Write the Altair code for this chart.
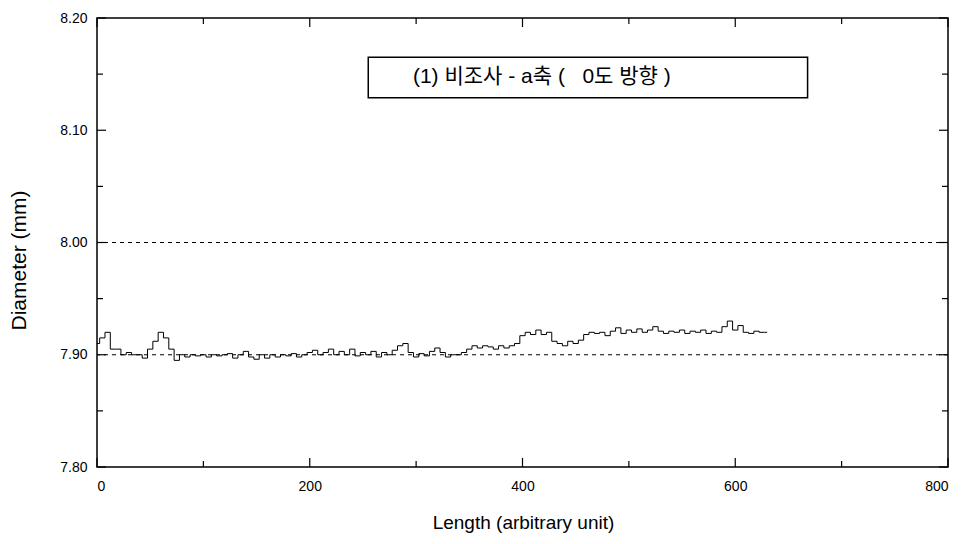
import altair as alt
import pandas as pd

# Measured diameter along the specimen (step trace)
length = list(range(0, 631, 5))
diameter = [
    7.910, 7.915, 7.920, 7.905, 7.905, 7.900, 7.902, 7.900, 7.900, 7.897,
    7.905, 7.912, 7.920, 7.915, 7.905, 7.895, 7.900, 7.898, 7.900, 7.899,
    7.900, 7.898, 7.900, 7.899, 7.900, 7.901, 7.897, 7.900, 7.903, 7.898,
    7.896, 7.900, 7.897, 7.900, 7.898, 7.900, 7.899, 7.901, 7.898, 7.900,
    7.902, 7.904, 7.900, 7.902, 7.905, 7.900, 7.903, 7.900, 7.905, 7.899,
    7.902, 7.900, 7.903, 7.898, 7.902, 7.900, 7.904, 7.908, 7.910, 7.902,
    7.898, 7.901, 7.899, 7.903, 7.906, 7.902, 7.898, 7.900, 7.900, 7.902,
    7.905, 7.908, 7.906, 7.908, 7.907, 7.905, 7.908, 7.906, 7.908, 7.910,
    7.917, 7.920, 7.918, 7.922, 7.918, 7.920, 7.912, 7.910, 7.908, 7.912,
    7.910, 7.913, 7.918, 7.920, 7.919, 7.920, 7.917, 7.921, 7.924, 7.919,
    7.922, 7.920, 7.923, 7.920, 7.922, 7.925, 7.921, 7.919, 7.921, 7.920,
    7.922, 7.919, 7.921, 7.920, 7.922, 7.919, 7.921, 7.920, 7.925, 7.930,
    7.922, 7.926, 7.920, 7.919, 7.921, 7.920, 7.920,
]

# Reference levels (dashed)
ref_levels = [7.90, 8.00]

# Axis ticks
x_major = [0, 200, 400, 600, 800]
x_minor = [100, 300, 500, 700]
y_major = [7.80, 7.90, 8.00, 8.10, 8.20]
y_minor = [7.85, 7.95, 8.05, 8.15]

# Annotation box and its caption (non-breaking spaces keep the wide gap)
box_x = [255, 668]
box_y = [8.129, 8.165]
box_label = "(1) 비조사 - a축 (\u00a0\u00a0\u00a00도 방향 )"
label_x = 297

W, H = 851, 449
FONT = "Liberation Sans, Arial, Noto Sans CJK KR"

xs = alt.Scale(domain=[0, 800], nice=False, zero=False)
ys = alt.Scale(domain=[7.80, 8.20], nice=False, zero=False)

trace_df = pd.DataFrame({"length": length, "diameter": diameter})

trace = alt.Chart(trace_df).mark_line(
    interpolate="step", color="black", strokeWidth=1
).encode(
    x=alt.X("length:Q", scale=xs,
            axis=alt.Axis(values=x_major, title="Length (arbitrary unit)",
                          ticks=False, domain=False, grid=False,
                          labelPadding=12, labelFontSize=14, labelFont=FONT,
                          labelColor="black", titleFont=FONT, titleFontSize=19,
                          titleFontWeight="normal", titleColor="black",
                          titleX=426, titleY=55, titleBaseline="middle",
                          format="d")),
    y=alt.Y("diameter:Q", scale=ys,
            axis=alt.Axis(values=y_major, title="Diameter (mm)",
                          ticks=False, domain=False, grid=False,
                          labelPadding=10, labelFontSize=14, labelFont=FONT,
                          labelColor="black", titleFont=FONT, titleFontSize=21,
                          titleFontWeight="normal", titleColor="black",
                          titleX=-78, titleY=242, titleAngle=270,
                          titleBaseline="middle", format=".2f")),
)

refs = alt.Chart(pd.DataFrame({"level": ref_levels})).mark_rule(
    color="black", strokeWidth=1, strokeDash=[4, 4]
).encode(y=alt.Y("level:Q", scale=ys))

# Inward ticks on all four sides
def x_ticks(vals, size):
    df = pd.DataFrame({"v": vals})
    bottom = alt.Chart(df).mark_rule(color="black", strokeWidth=1.2).encode(
        x=alt.X("v:Q", scale=xs), y=alt.value(H), y2=alt.value(H - size))
    top = alt.Chart(df).mark_rule(color="black", strokeWidth=1.2).encode(
        x=alt.X("v:Q", scale=xs), y=alt.value(0), y2=alt.value(size))
    return [bottom, top]

def y_ticks(vals, size):
    df = pd.DataFrame({"v": vals})
    left = alt.Chart(df).mark_rule(color="black", strokeWidth=1.2).encode(
        y=alt.Y("v:Q", scale=ys), x=alt.value(0), x2=alt.value(size))
    right = alt.Chart(df).mark_rule(color="black", strokeWidth=1.2).encode(
        y=alt.Y("v:Q", scale=ys), x=alt.value(W), x2=alt.value(W - size))
    return [left, right]

ticks = (x_ticks(x_major, 9) + x_ticks(x_minor, 6)
         + y_ticks(y_major, 9) + y_ticks(y_minor, 6))

box_df = pd.DataFrame({"x1": [box_x[0]], "x2": [box_x[1]],
                       "y1": [box_y[0]], "y2": [box_y[1]],
                       "xm": [label_x], "ym": [sum(box_y) / 2],
                       "label": [box_label]})
box = alt.Chart(box_df).mark_rect(fill="white", stroke="black", strokeWidth=1.5).encode(
    x=alt.X("x1:Q", scale=xs), x2="x2:Q",
    y=alt.Y("y1:Q", scale=ys), y2="y2:Q")
box_text = alt.Chart(box_df).mark_text(
    font=FONT, fontSize=21, color="black", align="left", baseline="middle"
).encode(x=alt.X("xm:Q", scale=xs), y=alt.Y("ym:Q", scale=ys), text="label:N")

chart = alt.layer(refs, trace, *ticks, box, box_text).properties(
    width=W, height=H,
    autosize=alt.AutoSizeParams(type="none"),
    padding={"left": 97, "top": 18, "right": 23, "bottom": 77},
    background="white",
).configure_view(stroke="black", strokeWidth=1.5)

chart.save("out.html", embed_options={"renderer": "svg", "actions": False})
